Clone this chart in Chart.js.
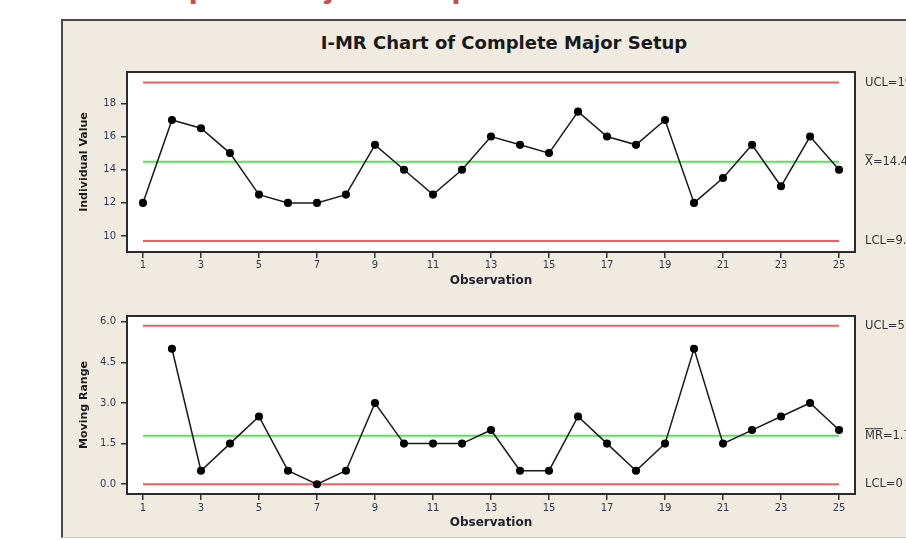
<!DOCTYPE html>
<html>
<head>
<meta charset="utf-8">
<script src="https://cdn.jsdelivr.net/npm/chart.js@4"></script>
<style>
  body { margin: 0; background: #fff; width: 906px; height: 540px; overflow: hidden; position: relative; }
  #topText { position: absolute; left: 113px; top: -33px; font: bold 34px/36px "Liberation Sans", sans-serif; color: #c0504d; white-space: nowrap; }
  #panel { position: absolute; left: 61px; top: 19px; width: 900px; height: 516px; background: #efebe1;
           border-left: 2px solid #4a4a4a; border-top: 2px solid #4a4a4a; border-bottom: 1px solid #c9c5bb; }
  #title { position: absolute; left: 61px; width: 886px; top: 31px; text-align: center;
           font: bold 18px/24px "DejaVu Sans", sans-serif; color: #1a1a1a; }
  canvas { position: absolute; left: 62px; }
  #c1 { top: 60px; }
  #c2 { top: 300px; }
</style>
</head>
<body>
<div id="topText">Complete Major Setup</div>
<div id="panel"></div>
<div id="title">I-MR Chart of Complete Major Setup</div>
<canvas id="c1" width="844" height="240"></canvas>
<canvas id="c2" width="844" height="240"></canvas>
<script>
const observations = [1, 2, 3, 4, 5, 6, 7, 8, 9, 10, 11, 12, 13, 14, 15, 16, 17, 18, 19, 20, 21, 22, 23, 24, 25];
const individual = [12, 17, 16.5, 15, 12.5, 12, 12, 12.5, 15.5, 14, 12.5, 14, 16, 15.5, 15, 17.5, 16, 15.5, 17, 12, 13.5, 15.5, 13, 16, 14];
const movingRange = [null, 5, 0.5, 1.5, 2.5, 0.5, 0, 0.5, 3, 1.5, 1.5, 1.5, 2, 0.5, 0.5, 2.5, 1.5, 0.5, 1.5, 5, 1.5, 2, 2.5, 3, 2];

// control limits
const iLimits = [19.25, 14.48, 9.71];      // UCL, center, LCL
const iLabels = ['UCL=19.25', 'X=14.48', 'LCL=9.71'];
const mrLimits = [5.853, 1.792, 0];
const mrLabels = ['UCL=5.853', 'MR=1.792', 'LCL=0'];

// tick labels
const xTicks = [1, 3, 5, 7, 9, 11, 13, 15, 17, 19, 21, 23, 25];
const iTicks = [10, 12, 14, 16, 18];
const mrTicks = [0, 1.5, 3, 4.5, 6];

const RED = '#f25e5e';
const GREEN = '#55e655';
const tickFont = { family: 'DejaVu Sans', size: 10 };
const tickColor = '#34394a';

function points(vals) {
    return observations.map((o, i) => ({ x: o, y: vals[i] })).filter(p => p.y !== null);
}
function limitSet(v, color) {
    return {
        data: [{ x: observations[0], y: v }, { x: observations[observations.length - 1], y: v }],
        borderColor: color, borderWidth: 2, pointRadius: 0
    };
}

// white plot area, dark frame, limit labels on the right
const framePlugin = {
    id: 'frame',
    beforeDraw(chart) {
        const a = chart.chartArea, ctx = chart.ctx;
        ctx.save();
        ctx.fillStyle = '#fff';
        ctx.fillRect(a.left, a.top, a.right - a.left, a.bottom - a.top);
        ctx.restore();
    },
    afterDraw(chart, args, opts) {
        const a = chart.chartArea, ctx = chart.ctx, y = chart.scales.y;
        ctx.save();
        ctx.strokeStyle = '#2b2b2b';
        ctx.lineWidth = 2;
        ctx.strokeRect(a.left, a.top, a.right - a.left, a.bottom - a.top);
        ctx.font = '11.5px "DejaVu Sans"';
        ctx.fillStyle = '#333';
        ctx.strokeStyle = '#333';
        ctx.textBaseline = 'middle';
        opts.values.forEach((v, i) => {
            const py = y.getPixelForValue(v);
            const px = a.right + 10;
            const txt = opts.labels[i];
            ctx.fillText(txt, px, py);
            if (i === 1) {
                // bar over X / MR
                const w = ctx.measureText(txt.split('=')[0]).width;
                ctx.lineWidth = 1;
                ctx.beginPath();
                ctx.moveTo(px, py - 7);
                ctx.lineTo(px + w, py - 7);
                ctx.stroke();
            }
        });
        ctx.restore();
    }
};

function makeChart(id, vals, limits, labels, yTicks, yMin, yMax, yTitle, pad, xTitlePad, xHeight, xTickPad, fmt) {
    return new Chart(document.getElementById(id), {
        type: 'line',
        data: {
            datasets: [
                {
                    data: points(vals),
                    borderColor: '#1a1a1a', borderWidth: 1.5,
                    pointRadius: 3.3, pointBackgroundColor: '#000', pointBorderColor: '#000',
                    tension: 0
                },
                limitSet(limits[0], RED),
                limitSet(limits[1], GREEN),
                limitSet(limits[2], RED)
            ]
        },
        options: {
            responsive: false,
            animation: false,
            devicePixelRatio: 1,
            layout: { padding: { left: 14, top: pad, right: 51, bottom: 0 } },
            plugins: {
                legend: { display: false },
                tooltip: { enabled: false },
                frame: { values: limits, labels: labels }
            },
            scales: {
                x: {
                    type: 'linear', min: 0.45, max: 25.55,
                    afterBuildTicks: s => { s.ticks = xTicks.map(v => ({ value: v })); },
                    afterFit: s => { s.height = xHeight; },
                    grid: { drawOnChartArea: false, tickLength: 6, color: '#333', lineWidth: 1.5 },
                    border: { display: false },
                    ticks: { font: tickFont, color: tickColor, padding: xTickPad, maxRotation: 0, autoSkip: false },
                    title: { display: true, text: 'Observation', color: '#22222e',
                             font: { family: 'DejaVu Sans', size: 12, weight: 'bold' },
                             padding: { top: 0, bottom: xTitlePad } }
                },
                y: {
                    min: yMin, max: yMax,
                    afterBuildTicks: s => { s.ticks = yTicks.map(v => ({ value: v })); },
                    afterFit: s => { s.width = 51; },
                    grid: { drawOnChartArea: false, tickLength: 6, color: '#333', lineWidth: 1.5 },
                    border: { display: false },
                    ticks: { font: tickFont, color: tickColor, padding: 5, callback: fmt },
                    title: { display: true, text: yTitle, color: '#1a1a1a',
                             font: { family: 'DejaVu Sans', size: 11, weight: 'bold' },
                             padding: { top: 2, bottom: 0 } }
                }
            }
        },
        plugins: [framePlugin]
    });
}

makeChart('c1', individual, iLimits, iLabels, iTicks, 9.04, 19.89, 'Individual Value',
          12, 12, 48, 1, v => v);
makeChart('c2', movingRange, mrLimits, mrLabels, mrTicks, -0.36, 6.21, 'Moving Range',
          16, 10, 46, 2, v => v.toFixed(1));
</script>
</body>
</html>
